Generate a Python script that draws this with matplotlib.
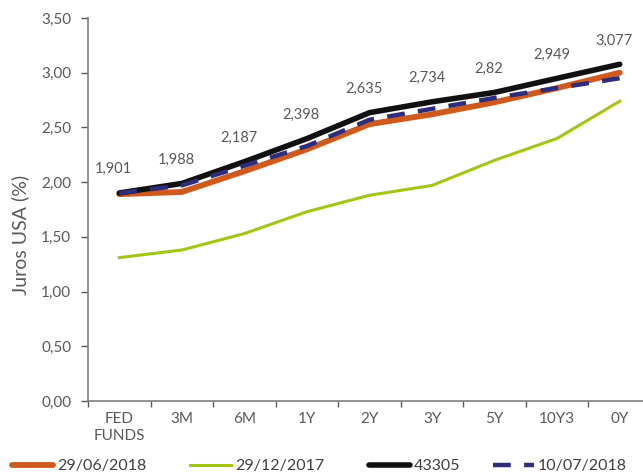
import matplotlib
matplotlib.use("Agg")
import matplotlib.pyplot as plt
from matplotlib.ticker import FixedLocator, FuncFormatter

categories = ["FED\nFUNDS", "3M", "6M", "1Y", "2Y", "3Y", "5Y", "10Y3", "0Y"]
s_290618 = [1.89, 1.91, 2.10, 2.30, 2.53, 2.62, 2.73, 2.86, 3.00]
s_291217 = [1.31, 1.38, 1.53, 1.73, 1.88, 1.97, 2.20, 2.40, 2.74]
s_43305 = [1.901, 1.988, 2.187, 2.398, 2.635, 2.734, 2.82, 2.949, 3.077]
s_100718 = [1.90, 1.97, 2.15, 2.33, 2.57, 2.67, 2.77, 2.86, 2.95]
label_43305 = ["1,901", "1,988", "2,187", "2,398", "2,635", "2,734", "2,82", "2,949", "3,077"]
y_ticks = [0, 0.5, 1.0, 1.5, 2.0, 2.5, 3.0, 3.5]

plt.rcParams['font.family'] = ['Lato', 'DejaVu Sans']
TXT = '#595959'

W, H = 643, 474
fig = plt.figure(figsize=(W / 100, H / 100), dpi=100)
ax = fig.add_axes([88 / W, (H - 401) / H, (651 - 88) / W, (401 - 18) / H])

x = list(range(len(categories)))
l1, = ax.plot(x, s_290618, color='#D05A1C', lw=4.2, solid_capstyle='round', label='29/06/2018', zorder=3)
l2, = ax.plot(x, s_291217, color='#A2C614', lw=2.2, label='29/12/2017', zorder=2)
l3, = ax.plot(x, s_43305, color='#111111', lw=4.0, solid_capstyle='round', label='43305', zorder=4)
l4, = ax.plot(x, s_100718, color='#2E2D7C', lw=3.2, dashes=(4, 3), label='10/07/2018', zorder=5)

for xi, yi, t in zip(x, s_43305, label_43305):
    ax.annotate(t, (xi, yi), xytext=(-4, 12), textcoords='offset points',
                ha='center', va='bottom', fontsize=10.5, color=TXT)

ax.set_xlim(-0.5, len(categories) - 0.5)
ax.set_ylim(0, 3.5)
ax.set_yticks(y_ticks)
ax.yaxis.set_major_formatter(FuncFormatter(lambda v, p: f"{v:.2f}".replace('.', ',')))
ax.xaxis.set_major_locator(FixedLocator([i - 0.5 for i in range(len(categories) + 1)]))
ax.xaxis.set_major_formatter(FuncFormatter(lambda v, p: ''))
ax.xaxis.set_minor_locator(FixedLocator(x))
ax.set_xticklabels(categories, minor=True, linespacing=1.25)
ax.tick_params(axis='x', which='minor', length=0, pad=8, labelsize=11, labelcolor=TXT)
ax.tick_params(axis='x', which='major', length=4, width=1, color='#595959', direction='out')
ax.tick_params(axis='y', length=5, width=1, color='#595959', pad=7, labelsize=11, labelcolor=TXT)
for s in ['top', 'right']:
    ax.spines[s].set_visible(False)
for s in ['left', 'bottom']:
    ax.spines[s].set_color('#7F7F7F')
    ax.spines[s].set_linewidth(1.2)

fig.text(20 / W, 1 - 235 / H, 'Juros USA (%)', rotation=90, ha='center', va='center',
         fontsize=14, color=TXT)

# legend entries placed individually (Excel-style spacing)
legend_x = [12, 190, 369, 493]
for h, lx in zip([l1, l2, l3, l4], legend_x):
    lg = fig.legend(handles=[h], loc='center left', bbox_to_anchor=(lx / W, 1 - 466 / H),
                    frameon=False, fontsize=11.5, handlelength=2.55, handletextpad=0.25,
                    borderaxespad=0, borderpad=0)
    for t in lg.get_texts():
        t.set_color('#404040')

fig.savefig('out.png', dpi=100)
